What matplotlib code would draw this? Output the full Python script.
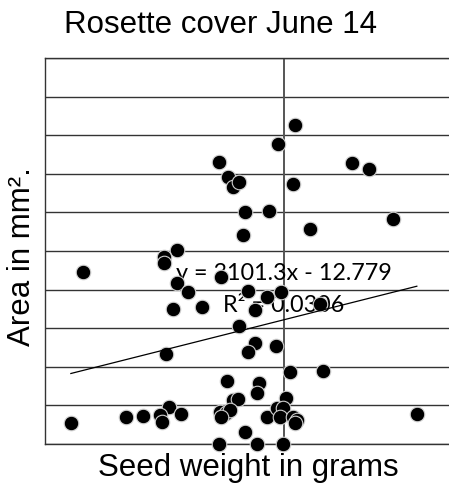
import matplotlib
matplotlib.use('Agg')
import matplotlib.pyplot as plt
import numpy as np

# --- data ---
seed_weight = [0.01473, 0.01438, 0.01313, 0.01593, 0.01629, 0.01332, 0.01343, 0.01355,
               0.01469, 0.01368, 0.01419, 0.01680, 0.01505, 0.01364, 0.01225, 0.01197,
               0.01197, 0.01027, 0.01317, 0.01225, 0.01248, 0.01374, 0.01414, 0.01444,
               0.01216, 0.01277, 0.01389, 0.01526, 0.01355, 0.01389, 0.01374, 0.01433,
               0.01202, 0.01463, 0.01532, 0.01330, 0.01397, 0.01393, 0.01343, 0.01353,
               0.01454, 0.01208, 0.01233, 0.01189, 0.01193, 0.01153, 0.01117, 0.01001,
               0.01315, 0.01328, 0.01336, 0.01317, 0.01414, 0.01435, 0.01448, 0.01442,
               0.01469, 0.01478, 0.01473, 0.01368, 0.01313, 0.01393, 0.01448, 0.01730]
area = [82.6, 77.7, 73.1, 72.8, 71.2, 69.2, 66.6, 67.9,
        67.4, 60.1, 60.4, 58.3, 55.7, 54.1, 50.3, 48.4,
        46.9, 44.6, 43.3, 41.7, 39.4, 39.6, 38.1, 39.4,
        35.0, 35.5, 34.7, 36.3, 30.6, 26.2, 23.8, 25.4,
        23.3, 18.7, 18.9, 16.3, 15.8, 13.2, 11.4, 11.7,
        11.9, 9.6, 7.8, 7.5, 5.7, 7.3, 7.0, 5.4,
        8.3, 8.0, 8.8, 7.0, 7.0, 9.3, 9.3, 7.0,
        7.0, 6.2, 5.4, 3.1, 0.0, 0.0, 0.0, 7.8]

# linear trendline shown on the chart
slope = 3101.3
intercept = -12.779
r_squared = 0.0306

x_min, x_max = 0.009465, 0.017978
y_min, y_max = 0, 100
x_cross = 0.0145   # where the vertical axis line sits

fig = plt.figure(figsize=(4.49, 4.91), dpi=100)
ax = fig.add_axes([45 / 449, 47 / 491, 404 / 449, 386 / 491])

ax.set_xlim(x_min, x_max)
ax.set_ylim(y_min, y_max)
ax.set_yticks(np.arange(0, 101, 10))
ax.set_xticks([])
ax.tick_params(left=False, labelleft=False, bottom=False, labelbottom=False)
ax.grid(True, axis='y', color='#333333', lw=1.0, zorder=0)
ax.set_axisbelow(True)
for side in ['left', 'bottom', 'top']:
    ax.spines[side].set_color('#333333')
    ax.spines[side].set_linewidth(1.0)
ax.spines['right'].set_visible(False)

ax.axvline(x_cross, color='#555555', lw=1.4, zorder=1)

ax.scatter(seed_weight, area, s=110, c='black', edgecolors='#d0d0d0',
           linewidths=0.8, zorder=3, clip_on=False)

# trendline over the range of the data
tx = np.array([min(seed_weight), max(seed_weight)])
ax.plot(tx, slope * tx + intercept, color='black', lw=0.9, zorder=4)

# trendline label (Excel style, two lines)
ax.text(x_cross, 42.5, f'y = {slope}x - {-intercept}', ha='center', va='baseline',
        fontsize=16.8, family='Lato', zorder=2)
ax.text(x_cross, 34.3, f'R² = {r_squared}', ha='center', va='baseline',
        fontsize=16.8, family='Lato', zorder=2)

fig.text(0.49, 1 - 33 / 491, 'Rosette cover June 14', ha='center', va='baseline',
         fontsize=22.5, family='Liberation Sans')
fig.text(248.5 / 449, 15 / 491, 'Seed weight in grams', ha='center', va='baseline',
         fontsize=22.5, family='Liberation Sans')
fig.text(22 / 449, 1 - 257 / 491, 'Area in mm².', ha='center', va='center',
         rotation=90, fontsize=22.5, family='Liberation Sans')

fig.savefig('out.png', dpi=100)
